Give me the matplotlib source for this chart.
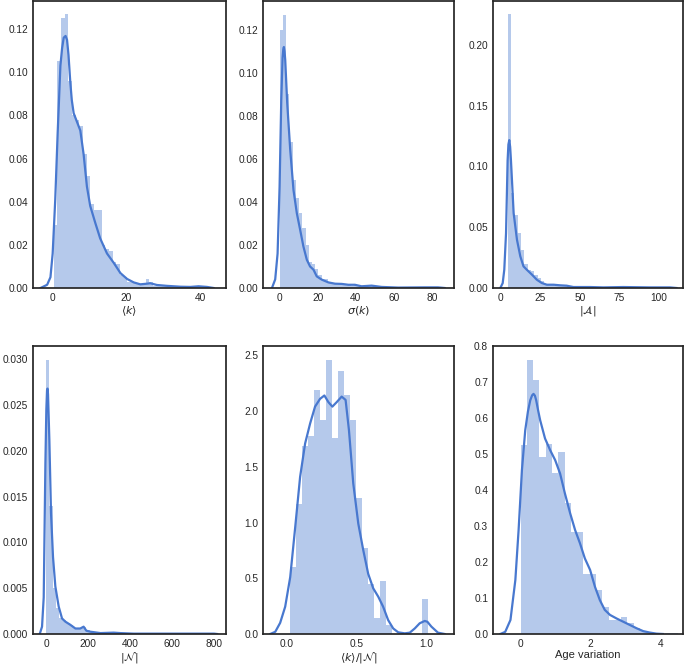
import numpy as np
import matplotlib
matplotlib.use("Agg")
import matplotlib.pyplot as plt

plt.rcParams['font.family'] = ['Liberation Sans', 'DejaVu Sans']
plt.rcParams['mathtext.fontset'] = 'dejavusans'

# ---- panel 1 : <k>
k_edges = np.linspace(0.27, 42.27, 43)
k_hist = [0.029, 0.105, 0.125, 0.127, 0.096, 0.080, 0.078, 0.075, 0.062, 0.052,
          0.039, 0.036, 0.036, 0.020, 0.018, 0.017, 0.012, 0.011, 0.006, 0.005,
          0.003, 0.003, 0.002, 0.002, 0.002, 0.004, 0.003, 0.001, 0.001, 0.001,
          0.001, 0.0005, 0.0005, 0.0005, 0.0005, 0.0005, 0.0005, 0.0005, 0.0005, 0.001,
          0.0005, 0.0005]
k_kde_x = [-3.3, -1.5, -0.6, 0.0, 0.7, 1.36, 2.1, 2.55, 3.0, 3.5, 3.9, 4.3, 4.8, 5.2,
           5.7, 6.6, 7.5, 8.4, 9.3, 10.2, 11.6, 12.9, 14.75, 16.6, 18.4, 20.2, 22.0,
           23.8, 25.6, 26.5, 28.3, 31.0, 34.7, 37.4, 39.6, 41.9, 43.7]
k_kde_y = [0.0, 0.0015, 0.005, 0.016, 0.041, 0.072, 0.103, 0.111, 0.116, 0.1168,
           0.115, 0.108, 0.095, 0.087, 0.081, 0.077, 0.073, 0.062, 0.047, 0.038,
           0.030, 0.023, 0.016, 0.0116, 0.0069, 0.0042, 0.0026, 0.0017, 0.002,
           0.0022, 0.0014, 0.001, 0.0006, 0.0005, 0.0008, 0.0005, 0.0]

# ---- panel 2 : sigma(k)
s_edges = np.linspace(0.0, 85.0, 51)
s_hist = [0.120, 0.127, 0.090, 0.068, 0.050, 0.042, 0.035, 0.028, 0.020, 0.012,
          0.011, 0.009, 0.006, 0.004, 0.004, 0.003, 0.0025, 0.002, 0.002, 0.0015,
          0.002, 0.0015, 0.001, 0.0012, 0.0008, 0.0008, 0.0005, 0.0012, 0.0008, 0.0005,
          0.0003, 0.0003, 0.0003, 0.0002, 0.0002, 0.0002, 0.0002, 0.0002, 0.0002, 0.0002,
          0.0002, 0.0002, 0.0002, 0.0002, 0.0003, 0.0003, 0.0002, 0.0003, 0.0003, 0.0002]
s_kde_x = [-4.0, -2.3, -1.05, 0.0, 0.87, 1.57, 1.95, 2.26, 2.6, 2.96, 4.0, 5.6, 7.3,
           9.06, 10.8, 12.5, 14.3, 16.0, 17.8, 19.5, 22.1, 25.6, 29.1, 32.6, 36.1,
           39.5, 43.0, 48.3, 53.5, 62.2, 76.1, 83.1, 86.6]
s_kde_y = [0.0, 0.004, 0.016, 0.047, 0.087, 0.107, 0.111, 0.112, 0.110, 0.106,
           0.086, 0.064, 0.0455, 0.0347, 0.027, 0.0193, 0.0131, 0.010, 0.0085,
           0.0054, 0.0039, 0.0026, 0.002, 0.0019, 0.0015, 0.0015, 0.0008, 0.0011,
           0.0005, 0.0002, 0.0003, 0.0003, 0.0]

# ---- panel 3 : |A|
a_edges = np.linspace(4.6, 109.6, 51)
a_hist = [0.225, 0.078, 0.060, 0.045, 0.031, 0.020, 0.015, 0.014, 0.011, 0.008,
          0.006, 0.003, 0.003, 0.0025, 0.002, 0.002, 0.0015, 0.0015, 0.001, 0.001,
          0.0008, 0.0008, 0.0005, 0.0008, 0.0005, 0.0005, 0.0005, 0.0005, 0.0005, 0.0005,
          0.0005, 0.0005, 0.0005, 0.0008, 0.0005, 0.0005, 0.0005, 0.0005, 0.0005, 0.0005,
          0.0005, 0.0005, 0.0005, 0.0005, 0.0005, 0.0005, 0.0005, 0.0005, 0.0005, 0.0005]
a_kde_x = [0.0, 1.5, 2.5, 3.6, 4.6, 5.1, 5.65, 6.2, 6.7, 8.4, 10.5, 12.6, 14.6, 16.7,
           19.9, 23.0, 26.1, 29.3, 33.5, 37.7, 41.8, 46.0, 56.5, 64.9, 77.4, 94.1,
           106.7, 110.9]
a_kde_y = [0.0, 0.004, 0.015, 0.045, 0.105, 0.118, 0.1216, 0.116, 0.105, 0.0615,
           0.0396, 0.026, 0.0178, 0.015, 0.011, 0.0068, 0.0041, 0.0027, 0.0027,
           0.0022, 0.0019, 0.0008, 0.0008, 0.0005, 0.0008, 0.0005, 0.0005, 0.0]

# ---- panel 4 : |N|
n_edges = np.linspace(0.0, 800.0, 51)
n_hist = [0.0299, 0.0140, 0.0050, 0.0028, 0.0018, 0.0015, 0.0012, 0.0010, 0.0007, 0.0006,
          0.0007, 0.0008, 0.0004, 0.0003, 0.0002, 0.0001, 0.0001, 0.0001, 0.0001, 0.0002,
          0.0001, 0.0001, 0.0001, 0.0001, 0.00005, 0.00005, 0.00005, 0.00005, 0.00005, 0.00005,
          0.00005, 0.00005, 0.00005, 0.00005, 0.00005, 0.00005, 0.00005, 0.00005, 0.00005, 0.00005,
          0.00005, 0.00005, 0.00005, 0.00005, 0.00005, 0.00005, 0.00005, 0.00005, 0.00005, 0.00005]
n_kde_x = [-30, -19, -11, -3, 1.5, 4.8, 7.2, 9.5, 15.9, 23.8, 33.3, 44.4, 60.3, 76.2,
           92, 116, 140, 163, 179, 192, 211, 259, 322, 354, 417, 576, 800, 815]
n_kde_y = [0.0, 0.0008, 0.004, 0.0186, 0.0245, 0.0266, 0.0268, 0.0262, 0.0212,
           0.0132, 0.0084, 0.0052, 0.003, 0.0017, 0.00135, 0.001, 0.0006, 0.0006,
           0.0008, 0.00036, 0.00025, 0.0001, 0.00015, 0.0001, 0.00004, 0.00004,
           0.00004, 0.0]

# ---- panel 5 : <k>/|N|
r_edges = np.linspace(0.024, 1.0107, 24)
r_hist = [0.597, 1.165, 1.685, 1.78, 2.186, 1.917, 2.455, 1.76, 2.36, 2.14, 1.917,
          1.22, 0.77, 0.45, 0.14, 0.48, 0.08, 0.0, 0.0, 0.0, 0.0, 0.0, 0.31]
r_kde_x = [-0.119, -0.083, -0.048, -0.012, 0.024, 0.06, 0.095, 0.131, 0.167, 0.202,
           0.238, 0.269, 0.298, 0.326, 0.357, 0.393, 0.421, 0.445, 0.476, 0.512,
           0.548, 0.583, 0.619, 0.655, 0.69, 0.726, 0.762, 0.798, 0.845, 0.881,
           0.917, 0.952, 0.988, 1.007, 1.036, 1.083, 1.131]
r_kde_y = [0.0, 0.02, 0.1, 0.245, 0.51, 0.96, 1.41, 1.71, 1.89, 2.04, 2.11, 2.14,
           2.08, 2.04, 2.08, 2.13, 2.10, 1.83, 1.35, 0.99, 0.75, 0.54, 0.41, 0.335,
           0.245, 0.125, 0.05, 0.015, 0.006, 0.012, 0.05, 0.096, 0.117, 0.11, 0.066,
           0.012, 0.0]

# ---- panel 6 : age variation
g_edges = np.linspace(0.0, 4.5, 26)
g_hist = [0.525, 0.760, 0.705, 0.492, 0.529, 0.446, 0.506, 0.363, 0.284, 0.284,
          0.168, 0.168, 0.122, 0.076, 0.039, 0.039, 0.048, 0.030, 0.018, 0.008,
          0.003, 0.0, 0.001, 0.002, 0.002]
g_kde_x = [-0.58, -0.44, -0.29, -0.15, -0.057, 0.038, 0.133, 0.21, 0.276, 0.33, 0.37,
           0.41, 0.447, 0.5, 0.56, 0.70, 0.85, 0.99, 1.13, 1.27, 1.42, 1.56, 1.70,
           1.84, 1.99, 2.13, 2.27, 2.41, 2.56, 2.75, 2.94, 3.13, 3.32, 3.51, 3.70,
           3.89, 4.08]
g_kde_y = [0.0, 0.006, 0.039, 0.15, 0.289, 0.455, 0.566, 0.618, 0.649, 0.663, 0.667,
           0.662, 0.649, 0.622, 0.594, 0.543, 0.51, 0.483, 0.446, 0.39, 0.335, 0.289,
           0.252, 0.21, 0.178, 0.131, 0.094, 0.067, 0.053, 0.043, 0.034, 0.025,
           0.016, 0.008, 0.004, 0.001, 0.0]

panels = [
    (k_edges, k_hist, k_kde_x, k_kde_y, r'$\langle k\rangle$', (-5.34, 47.06), (0, 0.133),
     [0, 20, 40], np.arange(0, 0.121, 0.02), '%.2f'),
    (s_edges, s_hist, s_kde_x, s_kde_y, r'$\sigma(k)$', (-8.7, 91.5), (0, 0.1334),
     [0, 20, 40, 60, 80], np.arange(0, 0.121, 0.02), '%.2f'),
    (a_edges, a_hist, a_kde_x, a_kde_y, r'$|\mathcal{A}|$', (-4.6, 115), (0, 0.236),
     [0, 25, 50, 75, 100], np.arange(0, 0.201, 0.05), '%.2f'),
    (n_edges, n_hist, n_kde_x, n_kde_y, r'$|\mathcal{N}|$', (-62, 857), (0, 0.03145),
     [0, 200, 400, 600, 800], np.arange(0, 0.0301, 0.005), '%.3f'),
    (r_edges, r_hist, r_kde_x, r_kde_y, r'$\langle k\rangle/|\mathcal{N}|$', (-0.171, 1.198),
     (0, 2.584), [0.0, 0.5, 1.0], np.arange(0, 2.51, 0.5), '%.1f'),
    (g_edges, g_hist, g_kde_x, g_kde_y, 'Age variation', (-0.79, 4.65), (0, 0.8),
     [0, 2, 4], np.arange(0, 0.81, 0.1), '%.1f'),
]

W, H = 685, 667
lefts = [33, 263, 493]
rights = [226, 454, 683]
tops = [1, 346]
bottoms = [288, 634]

blue = '#4878CF'
dark = '#262626'

fig = plt.figure(figsize=(W / 100, H / 100), dpi=100)

for i, (edges, hv, kx, ky, lab, xl, yl, xt, yt, fmt) in enumerate(panels):
    r, c = divmod(i, 3)
    ax = fig.add_axes([lefts[c] / W, 1 - bottoms[r] / H,
                       (rights[c] - lefts[c]) / W, (bottoms[r] - tops[r]) / H])
    ax.bar(edges[:-1], hv, width=np.diff(edges), align='edge',
           color=blue, alpha=0.4, linewidth=0)
    ax.plot(kx, ky, color=blue, lw=1.6, solid_joinstyle='round')
    ax.set_xlim(*xl)
    ax.set_ylim(*yl)
    ax.set_xticks(xt)
    ax.set_yticks(yt)
    ax.yaxis.set_major_formatter(matplotlib.ticker.FormatStrFormatter(fmt))
    if c == 2 and r == 1:
        ax.set_xticklabels(['0', '2', '4'])
    ax.tick_params(length=0, pad=3.5, labelsize=7.3, colors=dark)
    ax.set_xlabel(lab, fontsize=8, color=dark, labelpad=1)
    for s in ax.spines.values():
        s.set_color(dark)
        s.set_linewidth(1.25)

fig.savefig('out.png', dpi=100)
